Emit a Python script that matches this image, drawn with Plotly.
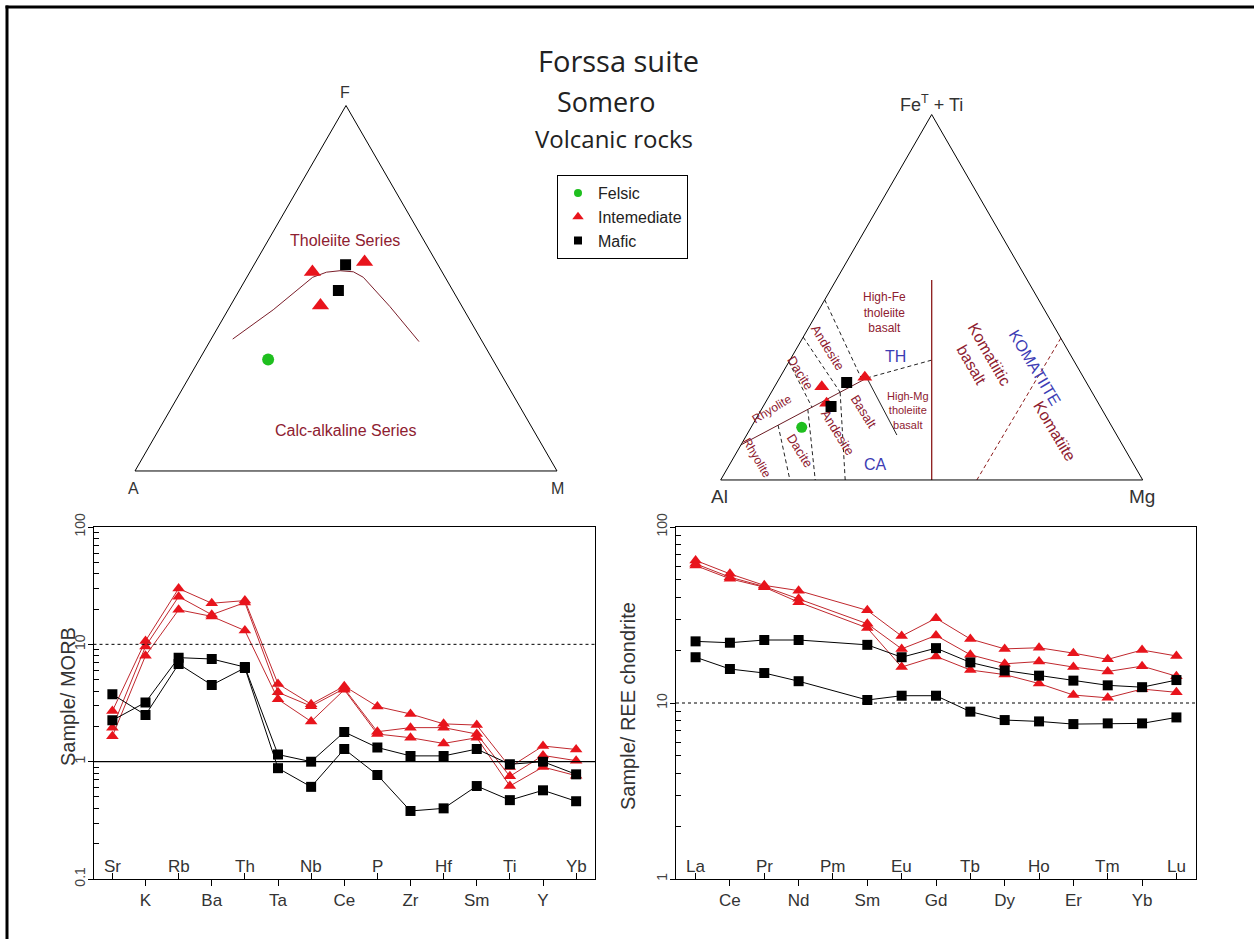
import plotly.graph_objects as go

# ---------------- data ----------------
# AFM diagram (F = FeO*, A = Na2O+K2O, M = MgO), percentages
afm_felsic_f = [30.5]
afm_felsic_a = [53.2]
afm_felsic_m = [16.3]
afm_inter_f = [54.4, 57.2, 45.3]
afm_inter_a = [30.7, 17.0, 33.4]
afm_inter_m = [14.8, 25.8, 21.3]
afm_mafic_f = [56.4, 49.4]
afm_mafic_a = [21.9, 27.1]
afm_mafic_m = [21.7, 23.5]
# Tholeiite / calc-alkaline divide
afm_div_f = [36.1, 44.1, 53.0, 54.4, 54.8, 54.5, 53.0, 45.0, 35.4]
afm_div_a = [58.8, 45.2, 31.4, 27.4, 24.0, 21.0, 19.4, 17.1, 15.0]
afm_div_m = [5.1, 10.7, 15.6, 18.2, 21.2, 24.5, 27.6, 37.9, 49.6]

# Jensen cation plot (FeT+Ti, Al, Mg)
jen_felsic_feti = [14.4]
jen_felsic_al = [73.6]
jen_felsic_mg = [12.0]
jen_inter_feti = [25.5, 28.1, 21.0]
jen_inter_al = [63.3, 51.8, 64.4]
jen_inter_mg = [11.2, 20.1, 14.6]
jen_mafic_feti = [26.7, 20.1]
jen_mafic_al = [56.8, 63.8]
jen_mafic_mg = [16.5, 16.1]

# Jensen field boundaries: (FeT+Ti, Al, Mg) end points
jen_thca_feti = [9.6, 27.9]
jen_thca_al = [90.4, 51.4]
jen_thca_mg = [0.0, 20.7]
jen_hmg_feti = [27.9, 12.3]
jen_hmg_al = [51.4, 52.1]
jen_hmg_mg = [20.7, 35.6]
jen_thsplit_feti = [27.9, 32.8]
jen_thsplit_al = [51.4, 33.6]
jen_thsplit_mg = [20.7, 33.6]
jen_kb_feti = [54.7, 0.0]
jen_kb_al = [22.65, 50.0]
jen_kb_mg = [22.65, 50.0]
jen_kom_feti = [38.8, 0.0]
jen_kom_al = [0.0, 39.3]
jen_kom_mg = [61.2, 60.7]
jen_d1_feti = [49.3, 27.5]
jen_d1_al = [50.7, 52.8]
jen_d1_mg = [0.0, 19.7]
jen_d2_feti = [39.1, 24.0]
jen_d2_al = [60.9, 59.7]
jen_d2_mg = [0.0, 16.3]
jen_d3_feti = [32.3, 19.9]
jen_d3_al = [67.7, 68.4]
jen_d3_mg = [0.0, 11.7]
jen_c1_feti = [15.0, 0.0]
jen_c1_al = [78.9, 83.6]
jen_c1_mg = [6.1, 16.4]
jen_c2_feti = [19.3, 0.0]
jen_c2_al = [69.7, 77.6]
jen_c2_mg = [11.0, 22.4]
jen_c3_feti = [24.0, 0.0]
jen_c3_al = [59.7, 70.5]
jen_c3_mg = [16.3, 29.5]

# MORB-normalised spider diagram
morb_elements = ["Sr", "K", "Rb", "Ba", "Th", "Ta", "Nb", "Ce", "P", "Zr", "Hf", "Sm", "Ti", "Y", "Yb"]
morb_inter_1 = [2.7, 10.7, 29.9, 22.4, 23.6, 4.6, 3.09, 4.4, 2.95, 2.55, 2.1, 2.05, 0.9, 1.36, 1.27]
morb_inter_2 = [1.95, 9.6, 25.5, 17.9, 22.7, 3.9, 2.97, 4.2, 1.8, 1.95, 1.95, 1.72, 0.75, 1.13, 1.02]
morb_inter_3 = [1.65, 8.0, 19.7, 17.3, 13.1, 3.4, 2.2, 4.1, 1.72, 1.6, 1.43, 1.6, 0.62, 0.9, 0.76]
morb_mafic_1 = [2.25, 3.2, 7.7, 7.5, 6.4, 1.15, 1.0, 1.79, 1.32, 1.12, 1.12, 1.28, 0.95, 1.0, 0.78]
morb_mafic_2 = [3.75, 2.5, 6.8, 4.5, 6.3, 0.88, 0.61, 1.28, 0.77, 0.38, 0.40, 0.62, 0.47, 0.57, 0.46]

# Chondrite-normalised REE diagram
ree_elements = ["La", "Ce", "Pr", "Nd", "Pm", "Sm", "Eu", "Gd", "Tb", "Dy", "Ho", "Er", "Tm", "Yb", "Lu"]
ree_inter_1 = [64.6, 54.2, 46.6, 43.5, None, 33.6, 24.0, 30.3, 23.1, 20.3, 20.6, 19.2, 17.7, 20.0, 18.5]
ree_inter_2 = [61.8, 51.9, 45.9, 39.1, None, 28.2, 20.3, 24.2, 18.8, 16.7, 17.2, 16.0, 15.1, 16.2, 14.2]
ree_inter_3 = [60.4, 50.8, 45.5, 37.4, None, 26.7, 16.0, 18.4, 15.4, 14.5, 12.9, 11.1, 10.7, 12.0, 11.5]
ree_mafic_1 = [22.4, 22.0, 22.8, 22.8, None, 21.4, 18.2, 20.5, 17.0, 15.3, 14.3, 13.4, 12.6, 12.3, 13.5]
ree_mafic_2 = [18.2, 15.6, 14.8, 13.3, None, 10.4, 11.0, 11.0, 8.93, 8.0, 7.86, 7.59, 7.66, 7.66, 8.28]

y_major = [0.1, 1, 10, 100]
y_major_text = ["0.1", "1", "10", "100"]

# ---------------- styling / geometry helpers ----------------
FW, FH = 1254, 939
def px(x):
    return x / FW
def py(y):
    return 1 - y / FH

GREEN = "#1FBF1F"
RED = "#E8141C"
REDLINE = "#C0282E"
DARKRED = "#8E2030"
BLUE = "#3C3CB4"
FONT = "Arial, Liberation Sans, sans-serif"
TFONT = "Open Sans, Noto Sans, sans-serif"

fig = go.Figure()

# ----- legend-only entries (small symbols as in the reference legend) -----
for name, sym, size, col, grp in [("Felsic", "circle", 8, GREEN, "f"),
                                  ("Intemediate", "triangle-up", 10, RED, "i"),
                                  ("Mafic", "square", 8, "black", "m")]:
    fig.add_trace(go.Scatterternary(a=[None], b=[None], c=[None], mode="markers", name=name,
                                    legendgroup=grp, subplot="ternary",
                                    marker=dict(symbol=sym, size=size, color=col)))

# ----- AFM ternary -----
fig.add_trace(go.Scatterternary(a=afm_div_f, b=afm_div_a, c=afm_div_m, mode="lines",
                                line=dict(color="#7A1E2A", width=1), subplot="ternary",
                                showlegend=False, hoverinfo="skip"))
fig.add_trace(go.Scatterternary(a=afm_felsic_f, b=afm_felsic_a, c=afm_felsic_m, mode="markers",
                                name="Felsic", legendgroup="f", showlegend=False,
                                marker=dict(symbol="circle", size=12, color=GREEN), subplot="ternary"))
fig.add_trace(go.Scatterternary(a=afm_inter_f, b=afm_inter_a, c=afm_inter_m, mode="markers",
                                name="Intemediate", legendgroup="i", showlegend=False,
                                marker=dict(symbol="triangle-up", size=15, color=RED), subplot="ternary"))
fig.add_trace(go.Scatterternary(a=afm_mafic_f, b=afm_mafic_a, c=afm_mafic_m, mode="markers",
                                name="Mafic", legendgroup="m", showlegend=False,
                                marker=dict(symbol="square", size=11, color="black"), subplot="ternary"))

# ----- Jensen ternary -----
def jline(a, b, c, color, dash, width=1):
    fig.add_trace(go.Scatterternary(a=a, b=b, c=c, mode="lines", subplot="ternary2",
                                    line=dict(color=color, width=width, dash=dash),
                                    showlegend=False, hoverinfo="skip"))

jline(jen_thca_feti, jen_thca_al, jen_thca_mg, "#6A1A22", "solid")
jline(jen_hmg_feti, jen_hmg_al, jen_hmg_mg, "#222222", "solid")
jline(jen_thsplit_feti, jen_thsplit_al, jen_thsplit_mg, "#222222", "4px,3px")
jline(jen_kb_feti, jen_kb_al, jen_kb_mg, "#8B1A1A", "solid", 1.3)
jline(jen_kom_feti, jen_kom_al, jen_kom_mg, "#8B1A1A", "4px,3px")
for a, b, c in [(jen_d1_feti, jen_d1_al, jen_d1_mg), (jen_d2_feti, jen_d2_al, jen_d2_mg),
                (jen_d3_feti, jen_d3_al, jen_d3_mg), (jen_c1_feti, jen_c1_al, jen_c1_mg),
                (jen_c2_feti, jen_c2_al, jen_c2_mg), (jen_c3_feti, jen_c3_al, jen_c3_mg)]:
    jline(a, b, c, "#222222", "4px,3px")

fig.add_trace(go.Scatterternary(a=jen_felsic_feti, b=jen_felsic_al, c=jen_felsic_mg, mode="markers",
                                marker=dict(symbol="circle", size=11, color=GREEN), subplot="ternary2",
                                showlegend=False, legendgroup="f"))
fig.add_trace(go.Scatterternary(a=jen_inter_feti, b=jen_inter_al, c=jen_inter_mg, mode="markers",
                                marker=dict(symbol="triangle-up", size=13, color=RED), subplot="ternary2",
                                showlegend=False, legendgroup="i"))
fig.add_trace(go.Scatterternary(a=jen_mafic_feti, b=jen_mafic_al, c=jen_mafic_mg, mode="markers",
                                marker=dict(symbol="square", size=11, color="black"), subplot="ternary2",
                                showlegend=False, legendgroup="m"))

# ----- spider diagrams -----
morb_x = list(range(len(morb_elements)))
ree_x = list(range(len(ree_elements)))

def spider(xs, ys, xa, ya, kind):
    if kind == "i":
        marker = dict(symbol="triangle-up", size=11, color=RED)
        line = dict(color=REDLINE, width=1)
    else:
        marker = dict(symbol="square", size=10, color="black")
        line = dict(color="black", width=1)
    fig.add_trace(go.Scatter(x=xs, y=ys, xaxis=xa, yaxis=ya, mode="lines+markers",
                             marker=marker, line=line, connectgaps=True,
                             showlegend=False, legendgroup=kind))

for ys in [morb_inter_1, morb_inter_2, morb_inter_3]:
    spider(morb_x, ys, "x", "y", "i")
for ys in [morb_mafic_1, morb_mafic_2]:
    spider(morb_x, ys, "x", "y", "m")
for ys in [ree_inter_1, ree_inter_2, ree_inter_3]:
    spider(ree_x, ys, "x2", "y2", "i")
for ys in [ree_mafic_1, ree_mafic_2]:
    spider(ree_x, ys, "x2", "y2", "m")

# empty traces that attach the secondary (inside-tick) category axes
fig.add_trace(go.Scatter(x=morb_x, y=[None] * len(morb_x), xaxis="x3", yaxis="y", mode="markers",
                         showlegend=False, hoverinfo="skip"))
fig.add_trace(go.Scatter(x=ree_x, y=[None] * len(ree_x), xaxis="x4", yaxis="y2", mode="markers",
                         showlegend=False, hoverinfo="skip"))

# ---------------- layout ----------------
tern_axis = dict(showgrid=False, showticklabels=False, ticks="", linecolor="black",
                 linewidth=1, title=dict(text=""))

L1, R1 = 93.5, 595.0
L2, R2 = 676.0, 1196.0
TOP, BOT = 527.0, 879.0
xr = [-0.57, 14.57]

minor_vals = [v * 10 ** e for e in (-1, 0, 1) for v in range(2, 10)]
TICKFONT = dict(family=FONT, size=17, color="#333333")

def yaxis_cfg(domain, rng, anchor):
    return dict(domain=domain, type="log", range=rng, anchor=anchor, automargin=False,
                tickvals=y_major, ticktext=y_major_text, tickangle=-90,
                ticks="outside", ticklen=5, tickcolor="black", ticklabelstandoff=-3,
                minor=dict(tickvals=minor_vals, ticks="inside", ticklen=5, tickcolor="black", showgrid=False),
                showline=True, mirror=True, linecolor="black", linewidth=1,
                showgrid=False, zeroline=False,
                tickfont=dict(family=FONT, size=14, color="#444444"))

def xaxis_cfg(domain, names, parity, anchor, overlay=None):
    idx = [i for i in range(len(names)) if i % 2 == parity]
    cfg = dict(range=xr, anchor=anchor, tickvals=idx, ticktext=[names[i] for i in idx],
               ticklen=6, tickcolor="black", showgrid=False, zeroline=False, automargin=False,
               tickfont=TICKFONT, fixedrange=True)
    if overlay is None:
        cfg.update(domain=domain, ticks="outside", showline=True, mirror=True,
                   linecolor="black", linewidth=1)
    else:
        cfg.update(overlaying=overlay, ticks="inside", showticklabels=False, showline=False)
    return cfg

shapes = [
    # outer frame (top and left edges)
    dict(type="line", xref="paper", yref="paper", x0=px(5.5), x1=1, y0=py(7), y1=py(7),
         line=dict(color="black", width=3)),
    dict(type="line", xref="paper", yref="paper", x0=px(7), x1=px(7), y0=py(5.5), y1=0,
         line=dict(color="black", width=3)),
    # reference lines
    dict(type="line", xref="x domain", yref="y", x0=0, x1=1, y0=10, y1=10,
         line=dict(color="black", width=1, dash="dot")),
    dict(type="line", xref="x domain", yref="y", x0=0, x1=1, y0=1, y1=1,
         line=dict(color="black", width=1.2)),
    dict(type="line", xref="x2 domain", yref="y2", x0=0, x1=1, y0=10, y1=10,
         line=dict(color="black", width=1, dash="dot")),
]

def ann(x, y, text, size, color="#333333", angle=0, family=FONT):
    return dict(x=px(x), y=py(y), xref="paper", yref="paper", text=text, showarrow=False,
                xanchor="center", yanchor="middle", textangle=angle,
                font=dict(family=family, size=size, color=color))

annotations = [
    ann(618, 61, "Forssa suite", 29, "#222222", family=TFONT),
    ann(606, 101, "Somero", 27, "#222222", family=TFONT),
    ann(614, 139, "Volcanic rocks", 24, "#222222", family=TFONT),
    # AFM vertices and fields
    ann(345, 93, "F", 16), ann(133, 488, "A", 16), ann(557, 488, "M", 16),
    ann(345, 240, "Tholeiite Series", 16, DARKRED),
    ann(345, 430, "Calc-alkaline Series", 16, DARKRED),
    # Jensen vertices
    ann(931, 104, "Fe<sup>T</sup> + Ti", 18), ann(719, 496, "Al", 19), ann(1142, 496, "Mg", 19),
    # Jensen fields
    ann(884, 313, "High-Fe<br>tholeiite<br>basalt", 12, DARKRED),
    ann(895, 357, "TH", 16, BLUE),
    ann(908, 410, "High-Mg<br>tholeiite<br>basalt", 11, DARKRED),
    ann(875, 464, "CA", 16, BLUE),
    ann(980, 359, "Komatiitic<br>basalt", 16, DARKRED, 60),
    ann(1035, 367, "KOMATIITE", 16, BLUE, 59),
    ann(1054, 431, "Komatiite", 16, DARKRED, 59),
    ann(828, 347, "Andesite", 13, DARKRED, 58),
    ann(801, 373, "Dacite", 13, DARKRED, 58),
    ann(772, 409, "Rhyolite", 12, DARKRED, -31),
    ann(864, 411, "Basalt", 13, DARKRED, 58),
    ann(838, 432, "Andesite", 13, DARKRED, 58),
    ann(800, 450, "Dacite", 13, DARKRED, 58),
    ann(757, 458, "Rhyolite", 12, DARKRED, 60),
    # spider y titles
    ann(68, 697, "Sample/ MORB", 20, "#333333", -90),
    ann(628, 706, "Sample/ REE chondrite", 20, "#333333", -90),
]

# element labels that sit inside the frame (every other category)
for names, xref, yref in [(morb_elements, "x", "y domain"), (ree_elements, "x2", "y2 domain")]:
    for i, name in enumerate(names):
        if i % 2 == 0:
            annotations.append(dict(x=i, y=0, xref=xref, yref=yref, text=name, showarrow=False,
                                    xanchor="center", yanchor="middle", yshift=13,
                                    font=TICKFONT))

fig.update_layout(
    width=FW, height=FH, margin=dict(l=0, r=0, t=0, b=0, autoexpand=False),
    paper_bgcolor="white", plot_bgcolor="white",
    font=dict(family=FONT, color="#333333"),
    ternary=dict(domain=dict(x=[px(135), px(557)], y=[py(471), py(105.5)]),
                 bgcolor="white", sum=100,
                 aaxis=tern_axis, baxis=tern_axis, caxis=tern_axis),
    ternary2=dict(domain=dict(x=[px(720.7), px(1142.7)], y=[py(480), py(114.5)]),
                  bgcolor="white", sum=100,
                  aaxis=tern_axis, baxis=tern_axis, caxis=tern_axis),
    xaxis=xaxis_cfg([px(L1), px(R1)], morb_elements, 1, "y"),
    xaxis3=xaxis_cfg(None, morb_elements, 0, "y", overlay="x"),
    yaxis=yaxis_cfg([py(BOT), py(TOP)], [-1, 2], "x"),
    xaxis2=xaxis_cfg([px(L2), px(R2)], ree_elements, 1, "y2"),
    xaxis4=xaxis_cfg(None, ree_elements, 0, "y2", overlay="x2"),
    yaxis2=yaxis_cfg([py(BOT), py(TOP)], [0, 2], "x2"),
    legend=dict(x=px(557), y=py(175), xanchor="left", yanchor="top",
                bordercolor="black", borderwidth=1, bgcolor="white",
                font=dict(family=FONT, size=16, color="#222222"),
                itemwidth=30, tracegroupgap=0),
    shapes=shapes, annotations=annotations,
)

fig.write_html(
    "out.html",
    config={"displayModeBar": False},
    post_script="document.body.style.margin='0';document.body.style.overflow='hidden';"
                "document.documentElement.style.overflow='hidden';",
)
